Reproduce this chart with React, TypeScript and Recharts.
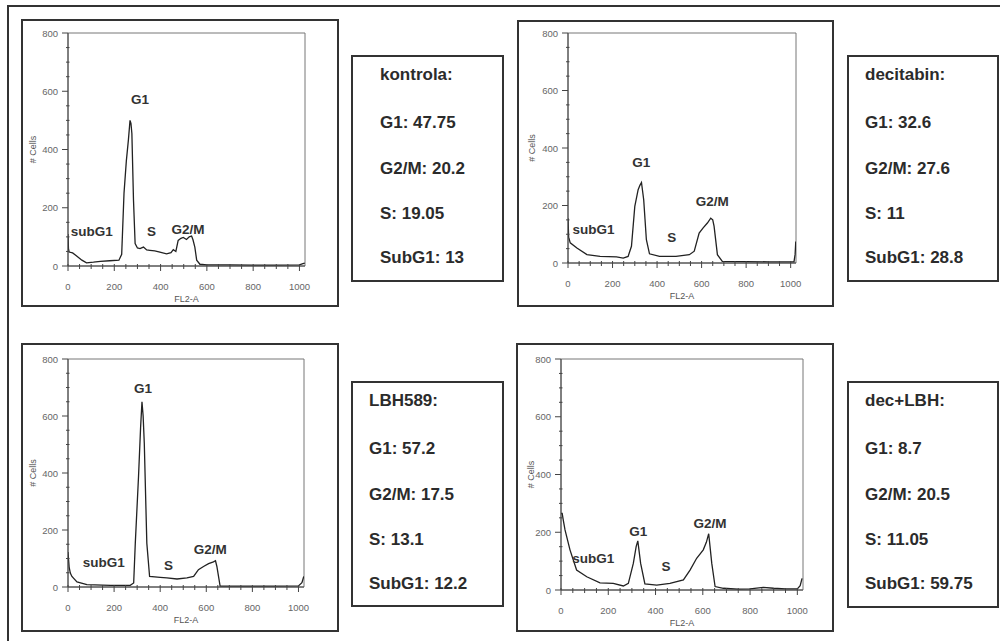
import React from 'react';
import { LineChart, Line, XAxis, YAxis, ReferenceDot, ReferenceArea } from 'recharts';

const FONT = '"Liberation Sans", Arial, sans-serif';

// axis ticks (minor every 50, labelled every 200)
const xTicks = [0, 50, 100, 150, 200, 250, 300, 350, 400, 450, 500, 550, 600, 650, 700, 750, 800, 850, 900, 950, 1000];
const yTicks = [0, 50, 100, 150, 200, 250, 300, 350, 400, 450, 500, 550, 600, 650, 700, 750, 800];
const xLabels = [0, 200, 400, 600, 800, 1000];
const yLabels = [0, 200, 400, 600, 800];

const phases = ['G1', 'G2/M', 'S', 'SubG1'];

// kontrola
const kontrolaFl2 = [0, 2, 5, 20, 40, 60, 80, 110, 140, 180, 220, 232, 242, 252, 261, 268, 272, 276, 283, 290, 300, 311, 326, 340, 354, 375, 397, 426, 445, 455, 466, 476, 488, 498, 512, 524, 534, 540, 548, 556, 570, 600, 700, 800, 900, 1000, 1015, 1023];
const kontrolaCells = [110, 60, 48, 45, 33, 20, 11, 13, 16, 18, 20, 40, 250, 360, 433, 500, 490, 455, 226, 77, 62, 60, 65, 55, 54, 52, 48, 42, 46, 56, 50, 88, 95, 98, 91, 100, 103, 90, 65, 20, 6, 4, 4, 3, 3, 4, 8, 10];
const kontrolaStats = [47.75, 20.2, 19.05, 13];
const kontrolaPeaks = [
  { label: 'G1', x: 311, y: 570 },
  { label: 'subG1', x: 103, y: 117 },
  { label: 'S', x: 361, y: 117 },
  { label: 'G2/M', x: 519, y: 126 },
];

// decitabin
const decitabinFl2 = [0, 3, 10, 40, 85, 144, 218, 248, 270, 285, 300, 315, 323, 330, 340, 352, 366, 411, 485, 545, 567, 589, 607, 626, 641, 650, 656, 671, 693, 800, 900, 1000, 1015, 1020, 1023];
const decitabinCells = [156, 90, 70, 52, 29, 23, 21, 17, 23, 58, 197, 255, 270, 280, 220, 81, 32, 23, 23, 29, 41, 104, 122, 139, 156, 150, 128, 29, 6, 5, 4, 4, 4, 30, 75];
const decitabinStats = [32.6, 27.6, 11, 28.8];
const decitabinPeaks = [
  { label: 'G1', x: 329, y: 348 },
  { label: 'subG1', x: 114, y: 118 },
  { label: 'S', x: 466, y: 87 },
  { label: 'G2/M', x: 648, y: 214 },
];

// LBH589
const lbhFl2 = [0, 5, 10, 17, 39, 82, 184, 270, 285, 292, 306, 315, 321, 326, 331, 342, 354, 400, 429, 473, 516, 545, 566, 588, 610, 631, 640, 646, 660, 700, 800, 900, 1000, 1015, 1023];
const lbhCells = [123, 70, 49, 37, 18, 8, 6, 6, 14, 154, 388, 560, 650, 600, 505, 154, 37, 34, 32, 28, 32, 37, 61, 72, 82, 88, 92, 72, 3, 3, 3, 3, 4, 15, 37];
const lbhStats = [57.2, 17.5, 13.1, 12.2];
const lbhPeaks = [
  { label: 'G1', x: 325, y: 695 },
  { label: 'subG1', x: 155, y: 86 },
  { label: 'S', x: 436, y: 75 },
  { label: 'G2/M', x: 617, y: 131 },
];

// dec+LBH
const comboFl2 = [0, 5, 10, 17, 38, 66, 109, 165, 221, 264, 285, 306, 318, 325, 337, 355, 405, 461, 518, 546, 574, 602, 615, 625, 638, 652, 687, 750, 800, 856, 900, 950, 1000, 1012, 1020];
const comboCells = [265, 265, 240, 208, 139, 69, 46, 25, 23, 14, 23, 92, 150, 170, 92, 21, 17, 23, 35, 69, 110, 139, 165, 195, 92, 12, 6, 3, 4, 9, 6, 4, 4, 15, 40];
const comboStats = [8.7, 20.5, 11.05, 59.75];
const comboPeaks = [
  { label: 'G1', x: 327, y: 202 },
  { label: 'subG1', x: 137, y: 110 },
  { label: 'S', x: 444, y: 83 },
  { label: 'G2/M', x: 630, y: 231 },
];

const toRows = (fl2: number[], cells: number[]) => fl2.map((x, i) => ({ x, cells: cells[i] }));

const XTick = ({ x, y, payload }: any) => {
  const major = xLabels.includes(payload.value);
  return (
    <g>
      <line x1={x} x2={x} y1={y - 2} y2={y + (major ? 5 : 3)} stroke="#444" />
      {major && (
        <text x={x} y={y + 24} textAnchor="middle" fontSize={9.5} fill="#666" fontFamily={FONT}>
          {payload.value}
        </text>
      )}
    </g>
  );
};

const YTick = ({ x, y, payload }: any) => {
  const major = yLabels.includes(payload.value);
  return (
    <g>
      <line x1={major ? x - 6 : x - 2} x2={major ? x : x + 1.5} y1={y} y2={y} stroke="#444" />
      {major && (
        <text x={x - 10} y={y + 3.5} textAnchor="end" fontSize={9.5} fill="#666" fontFamily={FONT}>
          {payload.value}
        </text>
      )}
    </g>
  );
};

const XTitle = ({ viewBox, dy }: any) => (
  <text x={viewBox.x + viewBox.width / 2} y={viewBox.y + dy} textAnchor="middle" fontSize={9} fill="#555" fontFamily={FONT}>
    FL2-A
  </text>
);

const YTitle = ({ viewBox, dx }: any) => {
  const cx = viewBox.x + viewBox.width - dx;
  const cy = viewBox.y + viewBox.height / 2;
  return (
    <text x={cx} y={cy} transform={`rotate(-90 ${cx} ${cy})`} textAnchor="middle" dominantBaseline="central" fontSize={9} fill="#555" fontFamily={FONT}>
      # Cells
    </text>
  );
};

type Box = { x: number; y: number; w: number; h: number };
type Plot = { l: number; t: number; r: number; b: number };

function Histogram({ box, plot, fl2, cells, peaks, yTitleGap }: { box: Box; plot: Plot; fl2: number[]; cells: number[]; peaks: { label: string; x: number; y: number }[]; yTitleGap: number }) {
  const data = toRows(fl2, cells);
  return (
    <>
      <div style={{ position: 'absolute', left: box.x, top: box.y, width: box.w, height: box.h }}>
        <LineChart
          width={box.w}
          height={box.h}
          data={data}
          margin={{ top: plot.t - box.y, right: box.x + box.w - plot.r, left: 0, bottom: 0 }}
        >
          <ReferenceArea x1={0} x2={1024} y1={0} y2={800} fill="none" stroke="#777" strokeWidth={1} ifOverflow="visible" />
          <XAxis
            type="number"
            dataKey="x"
            domain={[0, 1024]}
            ticks={xTicks}
            interval={0}
            allowDataOverflow
            height={box.y + box.h - plot.b}
            tickSize={0}
            tickMargin={0}
            tickLine={false}
            tick={<XTick />}
            axisLine={{ stroke: '#444' }}
            label={<XTitle dy={36} />}
          />
          <YAxis
            type="number"
            domain={[0, 800]}
            ticks={yTicks}
            interval={0}
            allowDataOverflow
            width={plot.l - box.x}
            tickSize={0}
            tickMargin={0}
            tickLine={false}
            tick={<YTick />}
            axisLine={{ stroke: '#444' }}
            label={<YTitle dx={yTitleGap} />}
          />
          <Line type="linear" dataKey="cells" stroke="#222" strokeWidth={1.3} dot={false} isAnimationActive={false} />
          {peaks.map((p) => (
            <ReferenceDot
              key={p.label}
              x={p.x}
              y={p.y}
              r={1}
              ifOverflow="visible"
              shape={(s: any) => (
                <text x={s.cx} y={s.cy} textAnchor="middle" dominantBaseline="central" fontSize={13.5} fontWeight="bold" fill="#333" fontFamily={FONT}>
                  {p.label}
                </text>
              )}
            />
          ))}
        </LineChart>
      </div>
      <div style={{ position: 'absolute', left: box.x, top: box.y, width: box.w, height: box.h, border: '2px solid #333', boxSizing: 'border-box', pointerEvents: 'none' }} />
    </>
  );
}

const lineCenters = [18, 66, 112, 157, 201];

function StatsBox({ box, title, stats, indent }: { box: Box; title: string; stats: number[]; indent: number }) {
  const lines = [title, ...phases.map((p, i) => `${p}: ${stats[i]}`)];
  return (
    <div style={{ position: 'absolute', left: box.x, top: box.y, width: box.w, height: box.h, border: '2px solid #333', boxSizing: 'border-box' }}>
      {lines.map((t, i) => (
        <div
          key={i}
          style={{
            position: 'absolute',
            left: indent,
            top: lineCenters[i] - 12,
            lineHeight: '24px',
            fontFamily: FONT,
            fontWeight: 'bold',
            fontSize: 17,
            color: '#2b2b2b',
            whiteSpace: 'nowrap',
          }}
        >
          {t}
        </div>
      ))}
    </div>
  );
}

export default function App() {
  return (
    <div style={{ position: 'absolute', left: 0, top: 0, width: 1000, height: 641, overflow: 'hidden', background: '#fff' }}>
      <div style={{ position: 'absolute', left: 7, top: 5, width: 1000, height: 700, borderLeft: '2px solid #333', borderTop: '2px solid #333' }} />

      <Histogram box={{ x: 21, y: 19, w: 318, h: 288 }} plot={{ l: 68, t: 33, r: 305, b: 266 }} fl2={kontrolaFl2} cells={kontrolaCells} peaks={kontrolaPeaks} yTitleGap={35} />
      <StatsBox box={{ x: 351, y: 55, w: 153, h: 227 }} title="kontrola:" stats={kontrolaStats} indent={27} />

      <Histogram box={{ x: 517, y: 20, w: 317, h: 287 }} plot={{ l: 568, t: 33, r: 796, b: 263 }} fl2={decitabinFl2} cells={decitabinCells} peaks={decitabinPeaks} yTitleGap={36} />
      <StatsBox box={{ x: 847, y: 55, w: 152, h: 227 }} title="decitabin:" stats={decitabinStats} indent={16} />

      <Histogram box={{ x: 21, y: 343, w: 318, h: 289 }} plot={{ l: 68, t: 359, r: 304, b: 587 }} fl2={lbhFl2} cells={lbhCells} peaks={lbhPeaks} yTitleGap={35} />
      <StatsBox box={{ x: 351, y: 381, w: 153, h: 226 }} title="LBH589:" stats={lbhStats} indent={16} />

      <Histogram box={{ x: 516, y: 343, w: 318, h: 289 }} plot={{ l: 561, t: 359, r: 803, b: 590 }} fl2={comboFl2} cells={comboCells} peaks={comboPeaks} yTitleGap={30} />
      <StatsBox box={{ x: 847, y: 381, w: 152, h: 227 }} title="dec+LBH:" stats={comboStats} indent={16} />
    </div>
  );
}
